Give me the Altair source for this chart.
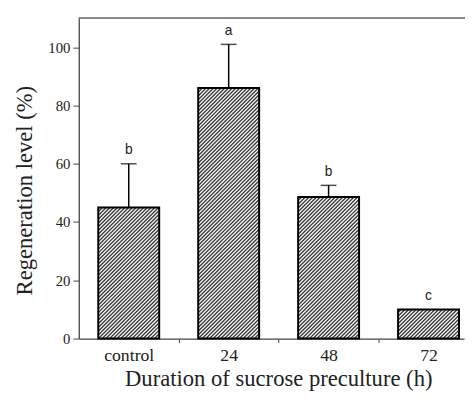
import altair as alt
import numpy as np
import pandas as pd

# ---- data ----
categories = ["control", "24", "48", "72"]
positions = [0, 1, 2, 3]
values = [45.0, 86.0, 48.6, 10.0]
errors = [15.0, 15.0, 4.0, 0.0]
letters = ["b", "a", "b", "c"]

# ---- layout constants ----
W, H = 392, 326
X_DOM = [-0.5, 3.355]
Y_DOM = [0, 110]
PX_X = W / (X_DOM[1] - X_DOM[0])
PX_Y = H / (Y_DOM[1] - Y_DOM[0])
HALF = 31 / PX_X          # half bar width in data units
SPACING = 3.8             # vertical hatch spacing in px

bars = pd.DataFrame({
    "pos": positions, "cat": categories, "value": values,
    "err": errors, "letter": letters,
})
bars["lo"] = bars["pos"] - HALF
bars["hi"] = bars["pos"] + HALF
bars["top"] = bars["value"] + bars["err"]

# hatch lines clipped to each bar (derived from bar values)
rows = []
bw = 2 * HALF * PX_X
for p, v in zip(positions, values):
    hpx = v * PX_Y
    for c in np.arange(-bw + 1.0, hpx, SPACING):
        u1 = max(0.0, -c)
        u2 = min(bw, hpx - c)
        if u2 > u1:
            rows.append({
                "x": p - HALF + u1 / PX_X, "y": (u1 + c) / PX_Y,
                "x2": p - HALF + u2 / PX_X, "y2": (u2 + c) / PX_Y,
            })
hatch = pd.DataFrame(rows)

xscale = alt.Scale(domain=X_DOM, nice=False, zero=False)
yscale = alt.Scale(domain=Y_DOM, nice=False)

label_map = "{" + ",".join(f"'{p}':'{c}'" for p, c in zip(positions, categories)) + "}"

x_axis = alt.Axis(
    values=[0, 0.5, 1, 1.5, 2, 2.5, 3],
    labelExpr=f"({label_map})[datum.value] || ''",
    tickSize={"condition": {"test": "datum.value % 1 !== 0", "value": 4}, "value": 0},
    labelPadding=8,
    labelFont="Liberation Serif", labelFontSize=18, labelColor="#222",
    domainColor="#444", tickColor="#444", domainWidth=1.3,
    title="Duration of sucrose preculture (h)",
    titleFont="Liberation Serif", titleFontSize=23, titleFontWeight="normal",
    titleColor="#222", titleX=203, titleY=41, titleBaseline="middle",
    grid=False,
)
y_axis = alt.Axis(
    values=list(range(0, 111, 10)),
    labelExpr="datum.value % 20 === 0 && datum.value <= 100 ? datum.label : ''",
    tickSize={"condition": {"test": "datum.value % 20 === 0", "value": 6}, "value": 3},
    labelPadding=3,
    labelFont="Liberation Serif", labelFontSize=15, labelColor="#222",
    domainColor="#444", tickColor="#444", domainWidth=1.3,
    title="Regeneration level (%)",
    titleFont="Liberation Serif", titleFontSize=23, titleFontWeight="normal",
    titleColor="#222", titleX=-55, titleY=175, titleBaseline="middle",
    grid=False,
)

base = alt.Chart(bars)

fill = base.mark_rect(fill="white", stroke=None).encode(
    x=alt.X("lo:Q", scale=xscale, axis=x_axis),
    x2="hi",
    y=alt.Y("value:Q", scale=yscale, axis=y_axis),
    y2=alt.datum(0),
)

hatch_layer = alt.Chart(hatch).mark_rule(color="#3a3a3a", strokeWidth=1.4).encode(
    x=alt.X("x:Q", scale=xscale), x2="x2",
    y=alt.Y("y:Q", scale=yscale), y2="y2",
)

outline = base.mark_rect(fill=None, stroke="black", strokeWidth=2).encode(
    x=alt.X("lo:Q", scale=xscale), x2="hi",
    y=alt.Y("value:Q", scale=yscale), y2=alt.datum(0),
)

err_line = base.transform_filter("datum.err > 0").mark_rule(
    color="black", strokeWidth=1.5
).encode(
    x=alt.X("pos:Q", scale=xscale),
    y=alt.Y("value:Q", scale=yscale), y2="top",
)
err_cap = base.transform_filter("datum.err > 0").mark_tick(
    orient="horizontal", size=16, thickness=1.5, color="black"
).encode(
    x=alt.X("pos:Q", scale=xscale),
    y=alt.Y("top:Q", scale=yscale),
)

text = base.mark_text(
    font="Liberation Sans", fontSize=14, color="#222", baseline="bottom", dy=-7
).encode(
    x=alt.X("pos:Q", scale=xscale),
    y=alt.Y("top:Q", scale=yscale),
    text="letter:N",
)

top_border = alt.Chart(bars).mark_rule(color="#888", strokeWidth=1.5).encode(
    x=alt.value(0), x2=alt.value(W + 5), y=alt.value(0)
)

chart = alt.layer(fill, hatch_layer, outline, err_line, err_cap, text, top_border).properties(
    width=W, height=H,
    autosize=alt.AutoSizeParams(type="none"),
    padding={"left": 72, "top": 7, "right": 1, "bottom": 50},
).configure_view(stroke=None)

chart.save("out.html", embed_options={"renderer": "svg", "actions": False})
